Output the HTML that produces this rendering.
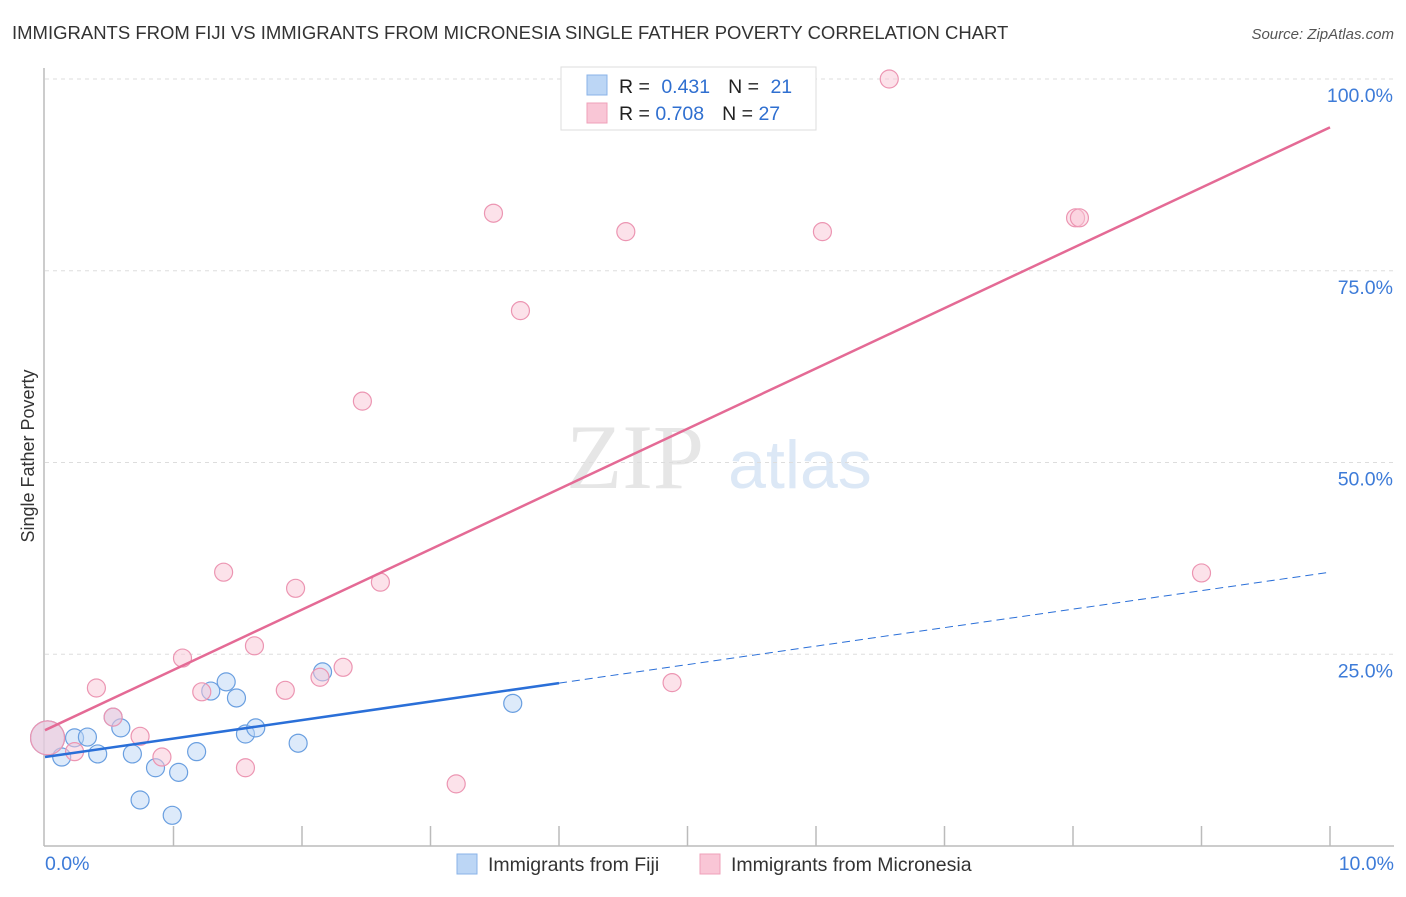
<!DOCTYPE html>
<html><head><meta charset="utf-8">
<style>
body{margin:0;background:#fff;font-family:"Liberation Sans",sans-serif;}
#wrap{position:relative;width:1406px;height:892px;}
</style></head>
<body>
<div id="wrap">
<svg id="chart" width="1406" height="892" xmlns="http://www.w3.org/2000/svg">
<text x="12" y="39" font-size="18.5" fill="#333">IMMIGRANTS FROM FIJI VS IMMIGRANTS FROM MICRONESIA SINGLE FATHER POVERTY CORRELATION CHART</text>
<text x="1394" y="39" font-size="15" fill="#555" font-style="italic" text-anchor="end">Source: ZipAtlas.com</text>
<text x="635" y="488" font-size="92" fill="#e6e6e6" font-family="Liberation Serif,serif" text-anchor="middle">ZIP</text>
<text x="800" y="488" font-size="68" fill="#dce8f6" text-anchor="middle">atlas</text>
<text transform="translate(34,456) rotate(-90)" font-size="18" fill="#333" text-anchor="middle">Single Father Poverty</text>
<g id="grid"></g><g id="axes"></g><g id="marks"></g>
<g>
<rect x="561" y="67" width="255" height="63" fill="#fff" stroke="#ddd"/>
<rect x="587" y="75" width="20" height="20" fill="#bcd6f5" stroke="#8ab3e8"/>
<rect x="587" y="103" width="20" height="20" fill="#f9c6d6" stroke="#efa0b9"/>
<text x="619" y="93" font-size="19.5" fill="#222">R = <tspan fill="#2f6fd0" dx="6">0.431</tspan><tspan dx="18">N = </tspan><tspan fill="#2f6fd0" dx="6">21</tspan></text>
<text x="619" y="120" font-size="19.5" fill="#222">R = <tspan fill="#2f6fd0">0.708</tspan><tspan dx="18">N = </tspan><tspan fill="#2f6fd0">27</tspan></text>
</g>
<g>
<rect x="457" y="854" width="20" height="20" fill="#bcd6f5" stroke="#8ab3e8"/>
<text x="488" y="871" font-size="19.5" fill="#333">Immigrants from Fiji</text>
<rect x="700" y="854" width="20" height="20" fill="#f9c6d6" stroke="#efa0b9"/>
<text x="731" y="871" font-size="19.5" fill="#333">Immigrants from Micronesia</text>
</g>
</svg>
</div>
<script>
const fijiX=[0.02,0.13,0.23,0.33,0.41,0.53,0.59,0.68,0.74,0.86,1.04,1.18,1.29,1.41,1.49,1.56,1.64,1.97,2.16,3.64,0.99];
const fijiY=[14.1,11.6,14.1,14.2,12.0,16.8,15.4,12.0,6.0,10.2,9.6,12.3,20.2,21.4,19.3,14.6,15.4,13.4,22.7,18.6,4.0];
const micX=[0.02,0.23,0.40,0.53,0.74,0.91,1.07,1.22,1.39,1.56,1.63,1.87,1.95,2.14,2.32,2.47,2.61,3.20,3.49,3.70,4.52,4.88,6.05,6.57,8.02,8.05,9.00];
const micY=[14.1,12.3,20.6,16.8,14.3,11.6,24.5,20.1,35.7,10.2,26.1,20.3,33.6,22.0,23.3,58.0,34.4,8.1,82.5,69.8,80.1,21.3,80.1,100,81.9,81.9,35.6];
const fijiTrend=[11.6,35.7];
const micTrend=[15.1,93.7];
const fijiSolidEnd=4.0;
const yTicks=[25,50,75,100];
const yTickLabels=["25.0%","50.0%","75.0%","100.0%"];
const xTickLabels=["0.0%","10.0%"];

const NS="http://www.w3.org/2000/svg";
const X=v=>45+v*128.5;
const Y=v=>846-v*7.67;
function mk(tag,attrs,parent){const e=document.createElementNS(NS,tag);for(const k in attrs)e.setAttribute(k,attrs[k]);document.getElementById(parent).appendChild(e);return e;}

yTicks.forEach((t,i)=>{
  const g=mk('line',{x1:45,x2:1394,y1:Y(t),y2:Y(t),stroke:'#ddd','stroke-dasharray':'4,4'},'grid');
  
  
  const l=mk('text',{x:1393,y:Y(t)+23,'font-size':19.5,fill:'#3d7bd8','text-anchor':'end'},'axes');
  l.textContent=yTickLabels[i];
  
  
});
const ax=mk('line',{x1:44,x2:1394,y1:846,y2:846,stroke:'#bbb','stroke-width':1.5},'axes');


const ay=mk('line',{x1:44,x2:44,y1:68,y2:846,stroke:'#bbb','stroke-width':1.5},'axes');


for(let i=1;i<=10;i++){
  const t=mk('line',{x1:X(i),x2:X(i),y1:826,y2:846,stroke:'#bbb','stroke-width':1.5},'axes');
  
  
}
[[0,'start',45],[10,'end',1394]].forEach((d,i)=>{
  const l=mk('text',{x:d[2],y:870,'font-size':19.5,fill:'#3d7bd8','text-anchor':d[1]},'axes');
  l.textContent=xTickLabels[i];
  
  
});

function dots(xs,ys,fill,stroke,name){
  xs.forEach((x,i)=>{
    const r=i===0?17:9;
    const c=mk('circle',{cx:X(x),cy:Y(ys[i]),r:r,fill:fill,'fill-opacity':i===0?0.55:0.5,stroke:stroke,'stroke-width':1.2},'marks');
    
    
  });
}
dots(fijiX,fijiY,'#bcd6f5','#6a9fe0','fiji');
dots(micX,micY,'#f9c6d6','#ec95b2','micronesia');

const fy=x=>fijiTrend[0]+(fijiTrend[1]-fijiTrend[0])*x/10;
const my=x=>micTrend[0]+(micTrend[1]-micTrend[0])*x/10;
let l1=mk('line',{x1:X(0),y1:Y(fy(0)),x2:X(fijiSolidEnd),y2:Y(fy(fijiSolidEnd)),stroke:'#2a6fd8','stroke-width':2.5},'marks');


let l2=mk('line',{x1:X(fijiSolidEnd),y1:Y(fy(fijiSolidEnd)),x2:X(10),y2:Y(fy(10)),stroke:'#2a6fd8','stroke-width':1,'stroke-dasharray':'8,5'},'marks');


let l3=mk('line',{x1:X(0),y1:Y(my(0)),x2:X(10),y2:Y(my(10)),stroke:'#e46a95','stroke-width':2.5},'marks');


</script>
</body></html>
